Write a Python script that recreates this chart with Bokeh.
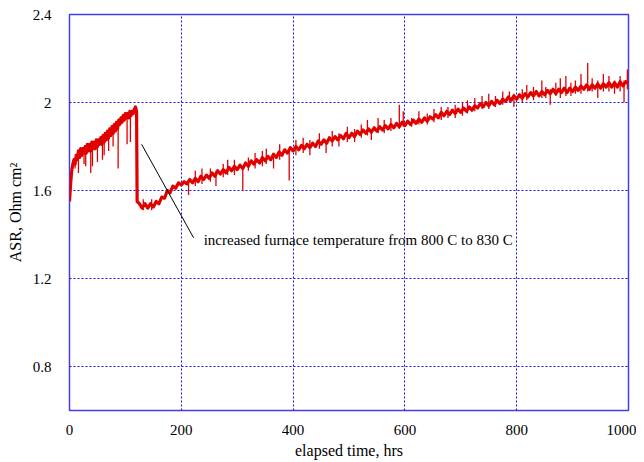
from bokeh.plotting import figure
from bokeh.models import Range1d, Label, FixedTicker
from bokeh.embed import file_html
from bokeh.resources import INLINE

hours = list(range(0, 121, 2)) + [121] + list(range(125, 1001, 5))

asr_before = [1.55, 1.63, 1.69, 1.72, 1.74, 1.72, 1.76, 1.74, 1.78, 1.75,
              1.79, 1.76, 1.79, 1.77, 1.80, 1.77, 1.81, 1.78, 1.81, 1.78,
              1.82, 1.79, 1.82, 1.79, 1.83, 1.80, 1.83, 1.81, 1.84, 1.81,
              1.85, 1.82, 1.86, 1.83, 1.87, 1.84, 1.88, 1.85, 1.89, 1.86,
              1.90, 1.87, 1.91, 1.88, 1.92, 1.90, 1.93, 1.91, 1.94, 1.92,
              1.95, 1.93, 1.95, 1.93, 1.96, 1.94, 1.96, 1.95, 1.97, 1.98,
              1.96]
asr_drop = [1.55]
asr_after = [1.54, 1.52, 1.54, 1.52, 1.54, 1.525, 1.55, 1.54, 1.57, 1.565,
             1.60, 1.59, 1.62, 1.61, 1.635,
             1.625, 1.64, 1.63, 1.65, 1.635, 1.655, 1.64, 1.665, 1.65, 1.67,
             1.655, 1.68, 1.665, 1.69, 1.675, 1.695, 1.68, 1.705, 1.69, 1.71,
             1.695, 1.715, 1.70, 1.725, 1.71, 1.735, 1.72, 1.74, 1.725, 1.75,
             1.735, 1.755, 1.74, 1.765, 1.75, 1.775, 1.76, 1.785, 1.77, 1.795,
             1.78, 1.80, 1.785, 1.805, 1.79, 1.81, 1.795, 1.815, 1.80, 1.825,
             1.81, 1.83, 1.815, 1.84, 1.825, 1.845, 1.83, 1.85, 1.835, 1.86,
             1.84, 1.86, 1.845, 1.87, 1.855, 1.875, 1.86, 1.88, 1.865, 1.885,
             1.87, 1.89, 1.875, 1.895, 1.88, 1.90, 1.885, 1.905, 1.89, 1.91,
             1.895, 1.915, 1.90, 1.92, 1.905, 1.925, 1.91, 1.93, 1.915, 1.935,
             1.925, 1.945, 1.93, 1.955, 1.94, 1.96, 1.945, 1.965, 1.95, 1.97,
             1.955, 1.975, 1.96, 1.98, 1.965, 1.985, 1.975, 1.995, 1.98, 2.00,
             1.985, 2.005, 1.99, 2.01, 1.995, 2.015, 2.005, 2.025, 2.01, 2.03,
             2.015, 2.035, 2.02, 2.04, 2.025, 2.045, 2.03, 2.05, 2.03, 2.05,
             2.035, 2.055, 2.04, 2.06, 2.04, 2.06, 2.045, 2.065, 2.045, 2.065,
             2.05, 2.07, 2.055, 2.075, 2.06, 2.08, 2.06, 2.08, 2.065, 2.085,
             2.065, 2.085, 2.07, 2.09, 2.07, 2.09, 2.07, 2.095, 2.075, 2.095,
             2.085]
asr = asr_before + asr_drop + asr_after
assert len(asr) == len(hours), (len(asr), len(hours))

# short excursions (noise spikes): hour, low, high
spike_hours = [10, 16, 26, 29, 38, 41, 50, 59, 62, 70, 78, 87, 103, 109,
               132, 147, 213, 225, 237, 252, 262, 275, 283, 295, 310, 320,
               332, 345, 352, 365, 376, 393, 405, 418, 430, 447, 459, 470,
               482, 497, 510, 522, 533, 540, 552, 563, 575, 590, 597, 612,
               625, 640, 652, 665, 677, 690, 703, 712, 725, 738, 750, 762,
               775, 787, 795, 810, 818, 830, 845, 852, 860, 870, 878, 888,
               897, 905, 915, 927, 935, 945, 955, 965, 975, 985, 992, 998]
spike_low = [1.70, 1.68, 1.72, 1.71, 1.68, 1.71, 1.73, 1.74, 1.76, 1.78, 1.80, 1.70, 1.81, 1.82,
             1.51, 1.51, 1.58, 1.62, 1.63, 1.64, 1.62, 1.66, 1.67, 1.67, 1.60, 1.69,
             1.70, 1.71, 1.72, 1.70, 1.74, 1.645, 1.76, 1.77, 1.76, 1.79, 1.77, 1.80,
             1.80, 1.82, 1.82, 1.84, 1.85, 1.83, 1.86, 1.86, 1.87, 1.88, 1.89, 1.89,
             1.90, 1.90, 1.91, 1.92, 1.93, 1.93, 1.94, 1.95, 1.96, 1.97, 1.97, 1.98,
             1.99, 2.00, 1.98, 2.00, 2.01, 2.01, 2.02, 2.02, 1.99, 2.03, 2.02, 2.03,
             2.03, 2.04, 2.04, 2.05, 2.05, 2.02, 2.05, 2.05, 2.04, 2.05, 2.00, 2.06]
spike_high = [1.75, 1.76, 1.79, 1.79, 1.80, 1.81, 1.82, 1.83, 1.84, 1.86, 1.88, 1.90, 1.94, 1.95,
              1.56, 1.56, 1.64, 1.69, 1.70, 1.70, 1.69, 1.72, 1.74, 1.74, 1.71, 1.75,
              1.77, 1.78, 1.79, 1.77, 1.81, 1.79, 1.83, 1.84, 1.83, 1.86, 1.83, 1.87,
              1.86, 1.89, 1.88, 1.90, 1.92, 1.87, 1.93, 1.92, 1.93, 1.99, 1.96, 1.93,
              1.96, 1.95, 1.97, 1.98, 1.98, 1.99, 2.00, 2.01, 2.02, 2.03, 2.04, 2.03,
              2.05, 2.05, 2.04, 2.06, 2.08, 2.07, 2.10, 2.07, 2.06, 2.09, 2.11, 2.12,
              2.09, 2.10, 2.13, 2.18, 2.11, 2.10, 2.13, 2.12, 2.10, 2.12, 2.10, 2.15]
assert len(spike_hours) == len(spike_low) == len(spike_high)

x_ticks = [0, 200, 400, 600, 800, 1000]
y_ticks = [0.8, 1.2, 1.6, 2.0, 2.4]
y_tick_labels = {0.8: "0.8", 1.2: "1.2", 1.6: "1.6", 2.0: "2", 2.4: "2.4"}

note_text = "increased furnace temperature from 800 C to 830 C"
note_line_x = [129, 222]
note_line_y = [1.81, 1.385]
note_pos = (240, 1.373)

FONT = "'Liberation Serif', 'DejaVu Serif', serif"
BLUE = "#1010e0"
RED = "#e00000"

p = figure(frame_width=559, frame_height=396, output_backend="svg",
           toolbar_location=None, x_range=Range1d(0, 1000), y_range=Range1d(0.6, 2.4),
           min_border_left=69, min_border_right=8, min_border_top=14, min_border_bottom=40)

p.segment(x0=spike_hours, y0=spike_low, x1=spike_hours, y1=spike_high,
          line_color=RED, line_width=1.3)
p.line(hours, asr, line_color=RED, line_width=3.2, line_join="round")
p.line(note_line_x, note_line_y, line_color="black", line_width=1)
p.add_layout(Label(x=note_pos[0], y=note_pos[1], text=note_text, text_font=FONT,
                   text_font_size="15px", text_baseline="middle", text_color="black"))

p.xaxis.ticker = FixedTicker(ticks=x_ticks)
p.yaxis.ticker = FixedTicker(ticks=y_ticks)
p.yaxis.major_label_overrides = y_tick_labels
for ax in (p.xaxis, p.yaxis):
    ax.axis_line_color = None
    ax.major_tick_line_color = None
    ax.minor_tick_line_color = None
    ax.major_label_text_font = FONT
    ax.major_label_text_font_size = "15px"
    ax.major_label_text_color = "black"
    ax.axis_label_text_font = FONT
    ax.axis_label_text_font_size = "16px"
    ax.axis_label_text_font_style = "normal"
    ax.axis_label_text_color = "black"
p.xaxis.axis_label = "elapsed time, hrs"
p.yaxis.axis_label = "ASR, Ohm cm²"
p.xaxis.major_label_standoff = 8
p.yaxis.major_label_standoff = 12
p.xaxis.axis_label_standoff = 4
p.yaxis.axis_label_standoff = 6

p.grid.grid_line_color = BLUE
p.grid.grid_line_dash = "2 2"
p.grid.grid_line_width = 1
p.outline_line_color = BLUE
p.outline_line_width = 1.5
p.outline_line_alpha = 0.8
p.background_fill_color = "white"
p.border_fill_color = "white"

open("out.html", "w").write(file_html(p, INLINE))
